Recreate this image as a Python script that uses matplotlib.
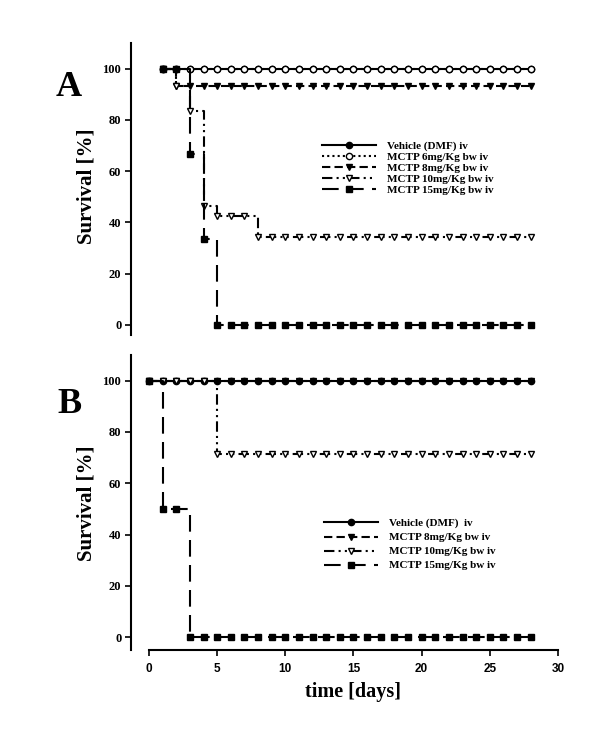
import matplotlib
matplotlib.use('Agg')
import matplotlib.pyplot as plt
from matplotlib.lines import Line2D

# ---- data (survival %) ----
days_a = list(range(1, 29))
veh_a = [100] * 28
m6_a = [100] * 28
m8_a = [100] + [93.3] * 27
m10_a = [100, 93.3, 83.3, 46.2, 42.3, 42.3, 42.3] + [34.1] * 21
m15_a = [100, 100, 66.7, 33.3] + [0] * 24

days_b = list(range(0, 29))
veh_b = [100] * 29
m8_b = [100] * 29
m10_b = [100] * 5 + [71.4] * 24
m15_b = [100, 50, 50] + [0] * 26

labels_a = ['Vehicle (DMF) iv', 'MCTP 6mg/Kg bw iv', 'MCTP 8mg/Kg bw iv',
            'MCTP 10mg/Kg bw iv', 'MCTP 15mg/Kg bw iv']
labels_b = ['Vehicle (DMF)  iv', 'MCTP 8mg/Kg bw iv',
            'MCTP 10mg/Kg bw iv', 'MCTP 15mg/Kg bw iv']

serif = 'Liberation Serif'
sans = 'Liberation Sans'

ls_solid = '-'
ls_dot = (0, (1, 1.5))
ls_dash = (0, (4, 2))
ls_ddot = (0, (5, 2, 1, 2, 1, 2))
ls_long = (0, (8, 4))

ms = 4.5
lw = 1.5

fig = plt.figure(figsize=(6, 7.35), dpi=100)
ax_a = fig.add_axes([0.2183, 0.5442, 0.7117, 0.3973])
ax_b = fig.add_axes([0.2183, 0.1156, 0.7117, 0.4014])


def style(ax, ylo, show_x):
    ax.set_xlim(-1.32, 30)
    ax.set_ylim(ylo, 110)
    ax.spines['top'].set_visible(False)
    ax.spines['right'].set_visible(False)
    ax.spines['left'].set_linewidth(1.5)
    ax.set_yticks([0, 20, 40, 60, 80, 100])
    ax.tick_params(axis='y', direction='out', length=4, width=1.2, pad=3)
    for t in ax.get_yticklabels():
        t.set_fontfamily(serif)
        t.set_fontweight('bold')
        t.set_fontsize(9)
    if show_x:
        ax.spines['bottom'].set_bounds(0, 30)
        ax.spines['bottom'].set_linewidth(1.5)
        ax.set_xticks([0, 5, 10, 15, 20, 25, 30])
        ax.tick_params(axis='x', direction='out', length=4, width=1.2, pad=5)
        for t in ax.get_xticklabels():
            t.set_fontfamily(sans)
            t.set_fontweight('bold')
            t.set_fontsize(8.5)
    else:
        ax.spines['bottom'].set_visible(False)
        ax.set_xticks([])


def curve(ax, x, y, ls, marker, mfc, z):
    ax.plot(x, y, drawstyle='steps-post', linestyle=ls, color='black', lw=lw,
            zorder=z)
    ax.plot(x, y, linestyle='none', marker=marker, ms=ms, mfc=mfc,
            mec='black', mew=1.0, zorder=z + 0.5)


def handles(specs):
    return [Line2D([0], [0], color='black', lw=lw, linestyle=ls, marker=m,
                   mfc=fc, mec='black', ms=ms) for ls, m, fc in specs]


# panel A
curve(ax_a, days_a, veh_a, ls_solid, 'o', 'black', 2)
curve(ax_a, days_a, m6_a, ls_dot, 'o', 'white', 3)
curve(ax_a, days_a, m8_a, ls_dash, 'v', 'black', 4)
curve(ax_a, days_a, m10_a, ls_ddot, 'v', 'white', 5)
curve(ax_a, days_a, m15_a, ls_long, 's', 'black', 6)
style(ax_a, -4, False)

# panel B
curve(ax_b, days_b, m8_b, ls_dash, 'v', 'black', 2)
curve(ax_b, days_b, veh_b, ls_solid, 'o', 'black', 3)
curve(ax_b, days_b, m10_b, ls_ddot, 'v', 'white', 4)
curve(ax_b, days_b, m15_b, ls_long, 's', 'black', 5)
style(ax_b, -5, True)

leg_font = {'family': serif, 'weight': 'bold', 'size': 8}

h_a = handles([(ls_solid, 'o', 'black'), (ls_dot, 'o', 'white'),
               (ls_dash, 'v', 'black'), (ls_ddot, 'v', 'white'),
               (ls_long, 's', 'black')])
ax_a.legend(h_a, labels_a, loc='upper left', bbox_to_anchor=(0.438, 0.678),
            frameon=False, handlelength=4.8, handletextpad=1.0,
            labelspacing=0.10, borderaxespad=0, prop=leg_font)

h_b = handles([(ls_solid, 'o', 'black'), (ls_dash, 'v', 'black'),
               (ls_ddot, 'v', 'white'), (ls_long, 's', 'black')])
ax_b.legend(h_b, labels_b, loc='upper left', bbox_to_anchor=(0.442, 0.461),
            frameon=False, handlelength=4.8, handletextpad=1.0,
            labelspacing=0.38, borderaxespad=0, prop=leg_font)

fig.text(86 / 600, 1 - 186 / 735, 'Survival [%]', rotation=90, ha='center',
         va='center', fontfamily=serif, fontweight='bold', fontsize=15)
fig.text(86 / 600, 1 - 503 / 735, 'Survival [%]', rotation=90, ha='center',
         va='center', fontfamily=serif, fontweight='bold', fontsize=15)
fig.text(353 / 600, 1 - 692 / 735, 'time [days]', ha='center', va='center',
         fontfamily=serif, fontweight='bold', fontsize=14.5)
fig.text(69 / 600, 1 - 88 / 735, 'A', ha='center', va='center',
         fontfamily=serif, fontweight='bold', fontsize=26)
fig.text(69 / 600, 1 - 405 / 735, 'B', ha='center', va='center',
         fontfamily=serif, fontweight='bold', fontsize=26)

fig.savefig('out.png', dpi=100, facecolor='white')
